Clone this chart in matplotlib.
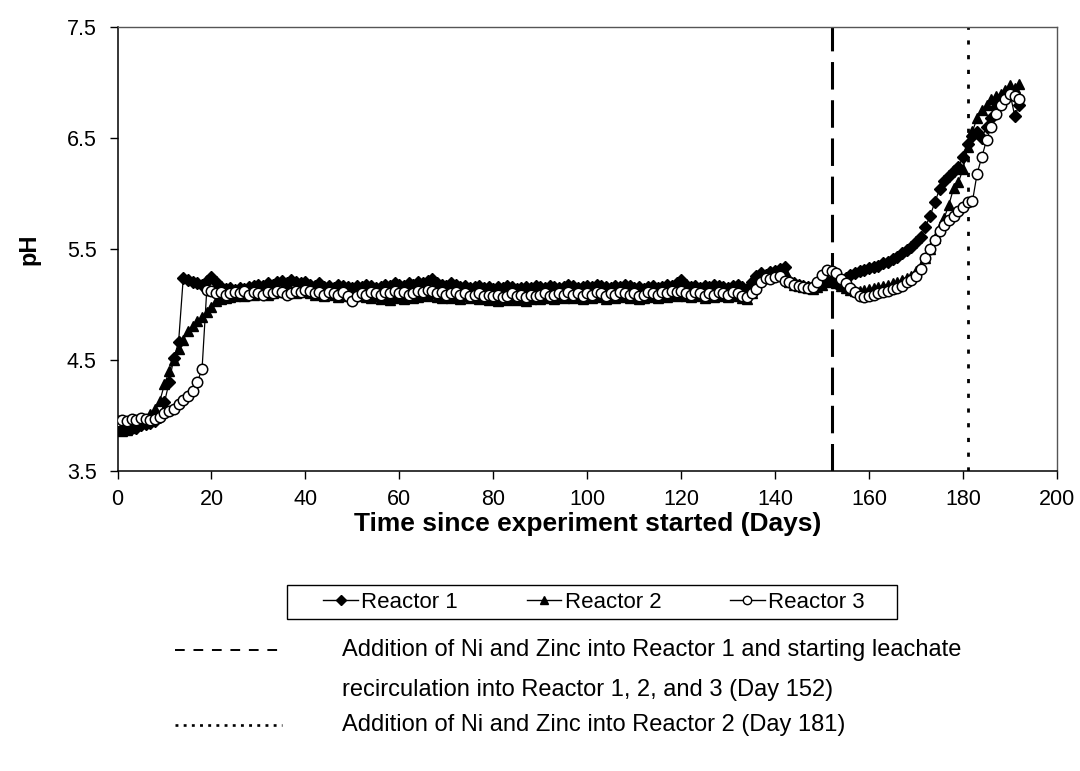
import matplotlib
matplotlib.use("Agg")
import matplotlib.pyplot as plt
from matplotlib.lines import Line2D
from matplotlib.patches import Rectangle
import numpy as np

plt.rcParams['font.family'] = ['Liberation Sans', 'DejaVu Sans']

days = list(range(0, 193))

reactor1 = [
    3.88, 3.87, 3.88, 3.89, 3.89, 3.91, 3.92, 3.93, 3.95, 3.99,
    4.12, 4.30, 4.52, 4.66, 5.24, 5.22, 5.20, 5.19, 5.18, 5.21,
    5.25, 5.20, 5.16, 5.14, 5.15, 5.13, 5.15, 5.14, 5.16, 5.17,
    5.18, 5.17, 5.19, 5.18, 5.20, 5.21, 5.19, 5.22, 5.20, 5.19,
    5.20, 5.18, 5.17, 5.19, 5.16, 5.17, 5.15, 5.18, 5.17, 5.16,
    5.15, 5.17, 5.16, 5.18, 5.17, 5.15, 5.16, 5.18, 5.17, 5.19,
    5.18, 5.17, 5.19, 5.18, 5.20, 5.19, 5.21, 5.23, 5.19, 5.18,
    5.17, 5.19, 5.18, 5.16, 5.17, 5.15, 5.16, 5.17, 5.15, 5.16,
    5.14, 5.16, 5.15, 5.17, 5.16, 5.14, 5.15, 5.16, 5.15, 5.17,
    5.16, 5.15, 5.17, 5.16, 5.15, 5.16, 5.18, 5.17, 5.15, 5.16,
    5.17, 5.16, 5.18, 5.17, 5.16, 5.15, 5.17, 5.16, 5.18, 5.17,
    5.15, 5.16, 5.14, 5.16, 5.17, 5.15, 5.16, 5.18, 5.17, 5.19,
    5.22, 5.18, 5.16, 5.17, 5.15, 5.17, 5.16, 5.18, 5.17, 5.16,
    5.15, 5.17, 5.18, 5.16, 5.14, 5.20, 5.26, 5.28, 5.27, 5.29,
    5.30, 5.32, 5.34, 5.21, 5.19, 5.18, 5.17, 5.16, 5.15, 5.17,
    5.19, 5.21, 5.22, 5.19, 5.21, 5.24, 5.27, 5.28, 5.30, 5.31,
    5.33, 5.34, 5.35, 5.37, 5.38, 5.41, 5.43, 5.46, 5.49, 5.52,
    5.56, 5.61, 5.70, 5.80, 5.92, 6.04, 6.11, 6.16, 6.20, 6.24,
    6.33, 6.45, 6.52, 6.55, 6.50, 6.60, 6.68, 6.78, 6.85, 6.88,
    6.90, 6.70, 6.80,
]

reactor2 = [
    3.87, 3.86, 3.87, 3.89, 3.91, 3.94, 3.97, 4.01, 4.06, 4.13,
    4.28, 4.40, 4.50, 4.60, 4.68, 4.76, 4.81, 4.85, 4.89, 4.93,
    4.98, 5.03, 5.05, 5.06, 5.07, 5.08, 5.09, 5.08, 5.10, 5.09,
    5.10, 5.11, 5.09, 5.10, 5.12, 5.11, 5.13, 5.12, 5.10, 5.11,
    5.12, 5.10, 5.09, 5.11, 5.08, 5.10, 5.09, 5.07, 5.08, 5.10,
    5.09, 5.08, 5.10, 5.07, 5.06, 5.08, 5.05, 5.07, 5.04, 5.06,
    5.07, 5.05, 5.08, 5.06, 5.07, 5.09, 5.08, 5.10, 5.07, 5.06,
    5.08, 5.06, 5.07, 5.05, 5.08, 5.06, 5.07, 5.05, 5.06, 5.04,
    5.05, 5.03, 5.05, 5.04, 5.06, 5.04, 5.05, 5.03, 5.05, 5.06,
    5.05, 5.07, 5.06, 5.05, 5.07, 5.06, 5.08, 5.06, 5.07, 5.05,
    5.07, 5.06, 5.08, 5.07, 5.05, 5.07, 5.06, 5.08, 5.07, 5.06,
    5.07, 5.05, 5.06, 5.08, 5.07, 5.06, 5.08, 5.07, 5.09, 5.08,
    5.10, 5.08, 5.07, 5.09, 5.08, 5.06, 5.08, 5.07, 5.09, 5.08,
    5.07, 5.09, 5.08, 5.06, 5.05, 5.10, 5.18, 5.24, 5.26, 5.25,
    5.27, 5.29, 5.30, 5.20, 5.18, 5.17, 5.16, 5.15, 5.14, 5.16,
    5.18, 5.20, 5.21, 5.19, 5.17, 5.15, 5.13, 5.12, 5.12, 5.13,
    5.14, 5.15, 5.16, 5.17, 5.18, 5.19, 5.20, 5.22, 5.24, 5.26,
    5.30, 5.35, 5.42, 5.50, 5.60, 5.70, 5.78, 5.90, 6.05, 6.10,
    6.22, 6.42, 6.56, 6.68, 6.75, 6.80, 6.85, 6.88, 6.90, 6.93,
    6.98, 6.95, 6.99,
]

reactor3 = [
    3.95, 3.96, 3.95, 3.97, 3.96, 3.98, 3.97, 3.96, 3.97, 3.99,
    4.02, 4.04, 4.06, 4.10, 4.14, 4.18, 4.22, 4.30, 4.42, 5.13,
    5.12, 5.10, 5.11, 5.09, 5.10, 5.11, 5.10, 5.12, 5.09, 5.11,
    5.10, 5.09, 5.11, 5.10, 5.12, 5.11, 5.09, 5.10, 5.12, 5.11,
    5.13, 5.12, 5.10, 5.11, 5.09, 5.11, 5.10, 5.09, 5.11, 5.08,
    5.03, 5.08, 5.10, 5.09, 5.11, 5.10, 5.09, 5.11, 5.10, 5.12,
    5.10, 5.11, 5.09, 5.10, 5.12, 5.11, 5.13, 5.12, 5.10, 5.11,
    5.09, 5.10, 5.11, 5.09, 5.10, 5.08, 5.09, 5.10, 5.08, 5.09,
    5.08, 5.09, 5.07, 5.08, 5.10, 5.08, 5.09, 5.07, 5.09, 5.08,
    5.09, 5.10, 5.08, 5.09, 5.10, 5.09, 5.11, 5.09, 5.10, 5.08,
    5.10, 5.09, 5.11, 5.10, 5.08, 5.10, 5.09, 5.11, 5.10, 5.09,
    5.10, 5.08, 5.09, 5.11, 5.10, 5.09, 5.11, 5.10, 5.12, 5.11,
    5.12, 5.10, 5.09, 5.11, 5.10, 5.08, 5.10, 5.09, 5.11, 5.10,
    5.09, 5.11, 5.10, 5.08, 5.07, 5.10, 5.14, 5.20, 5.24, 5.23,
    5.25, 5.26, 5.21, 5.20, 5.18, 5.17, 5.16, 5.15, 5.16, 5.20,
    5.27, 5.31, 5.30, 5.28, 5.23, 5.19, 5.15, 5.11, 5.08, 5.07,
    5.08, 5.09, 5.10, 5.11, 5.12, 5.14, 5.15, 5.17, 5.20, 5.22,
    5.26, 5.32, 5.42, 5.50, 5.58, 5.66, 5.72, 5.76, 5.80, 5.84,
    5.88, 5.92, 5.93, 6.18, 6.33, 6.48, 6.60, 6.72, 6.80, 6.85,
    6.90, 6.88, 6.85,
]

series_names = ["Reactor 1", "Reactor 2", "Reactor 3"]
event_days = [152, 181]
event_texts = [
    "Addition of Ni and Zinc into Reactor 1 and starting leachate",
    "recirculation into Reactor 1, 2, and 3 (Day 152)",
    "Addition of Ni and Zinc into Reactor 2 (Day 181)",
]
x_ticks = [0, 20, 40, 60, 80, 100, 120, 140, 160, 180, 200]
y_ticks = [3.5, 4.5, 5.5, 6.5, 7.5]

W, H = 1080, 771
fig = plt.figure(figsize=(W / 100, H / 100), dpi=100)
ax = fig.add_axes([117.5 / W, 1 - 471 / H, (1057 - 117.5) / W, (471 - 27) / H])

ax.plot(days, reactor1, color='black', lw=0.9, marker='D', ms=6.5,
        mfc='black', mec='black', label=series_names[0], zorder=3)
ax.plot(days, reactor2, color='black', lw=0.9, marker='^', ms=7.5,
        mfc='black', mec='black', label=series_names[1], zorder=4)
ax.plot(days, reactor3, color='black', lw=0.9, marker='o', ms=7.5,
        mfc='white', mec='black', mew=1.1, label=series_names[2], zorder=5)

ax.axvline(event_days[0], color='black', lw=2.2, dashes=(9, 3.5), zorder=2)
ax.axvline(event_days[1], color='black', lw=2.0, dashes=(1.5, 3.8), zorder=2)

ax.set_xlim(0, 200)
ax.set_ylim(3.5, 7.5)
ax.set_xticks(x_ticks)
ax.set_yticks(y_ticks)
ax.set_yticklabels([f"{v:.1f}" for v in y_ticks])
ax.tick_params(axis='both', direction='out', length=6, width=1,
               labelsize=15.5, colors='black')
ax.tick_params(axis='y', pad=9)
ax.tick_params(axis='x', pad=7)
ax.tick_params(top=False, right=False)
for s in ['left', 'bottom']:
    ax.spines[s].set_linewidth(1.1)
for s in ['top', 'right']:
    ax.spines[s].set_linewidth(1.0)
    ax.spines[s].set_color('#555555')

ax.set_xlabel("Time since experiment started (Days)", fontsize=19,
              fontweight='bold', labelpad=1.5)
ax.set_ylabel("pH", fontsize=17, fontweight='bold', labelpad=19)

handles = [
    Line2D([], [], color='black', lw=1, marker='D', ms=5, mfc='black', mec='black'),
    Line2D([], [], color='black', lw=1, marker='^', ms=6, mfc='black', mec='black'),
    Line2D([], [], color='black', lw=1, marker='o', ms=6, mfc='white', mec='black'),
]
leg = fig.legend(handles, series_names, ncol=3, loc='center',
                 bbox_to_anchor=(594 / W, 1 - 602 / H), frameon=False,
                 fontsize=16, handlelength=1.55, handletextpad=0.15,
                 columnspacing=3.1, borderpad=0.3, borderaxespad=0)
# legend frame (wider horizontal padding than matplotlib allows)
fig.add_artist(Rectangle((287 / W, 1 - 619 / H), (897 - 287) / W, 34 / H,
                         transform=fig.transFigure, fill=False,
                         edgecolor='black', lw=1.0))

# Annotation key for vertical lines
fig.add_artist(Line2D([175 / W, 280 / W], [1 - 650 / H, 1 - 650 / H],
                      color='black', lw=1.4, dashes=(5.0, 4.5)))
fig.add_artist(Line2D([175 / W, 282 / W], [1 - 725 / H, 1 - 725 / H],
                      color='black', lw=1.9, dashes=(1.1, 2.0)))
fig.text(342 / W, 1 - 650 / H, event_texts[0], fontsize=17, va='center', ha='left')
fig.text(342 / W, 1 - 690 / H, event_texts[1], fontsize=17, va='center', ha='left')
fig.text(342 / W, 1 - 725 / H, event_texts[2], fontsize=17, va='center', ha='left')

fig.savefig("out.png", dpi=100)
